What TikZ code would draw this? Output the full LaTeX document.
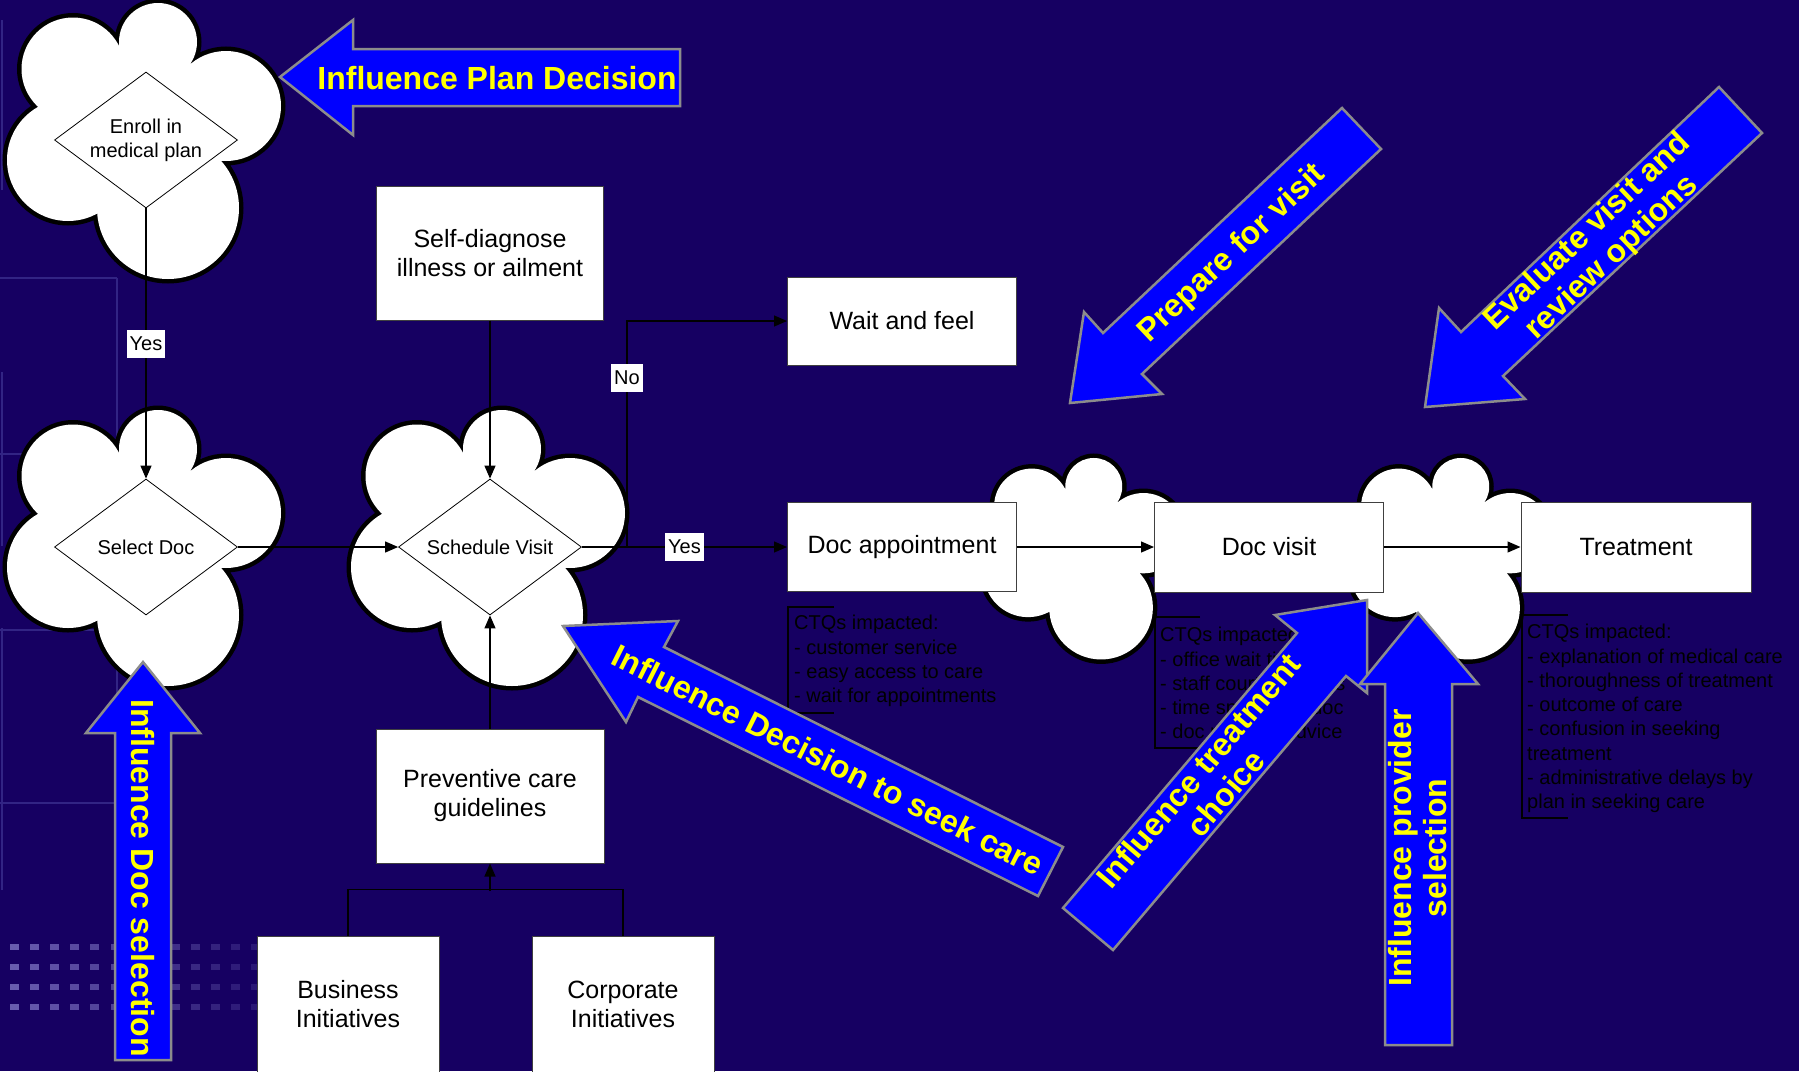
\documentclass[tikz,border=0pt]{standalone}
\usepackage{fontspec}
\setmainfont{Liberation Sans}
\usetikzlibrary{shapes.geometric,arrows.meta}

\definecolor{bgnavy}{RGB}{22,0,98}
\definecolor{decoline}{RGB}{50,36,132}
\definecolor{decodot}{RGB}{125,115,195}
\definecolor{arrblue}{RGB}{0,0,255}
\definecolor{arredge}{RGB}{140,140,140}
\definecolor{arrtext}{RGB}{255,255,0}

\newcommand{\fsz}[2]{\fontsize{#1}{#2}\selectfont}

% lobes of one cloud, relative to its centre
\newcommand{\cloudlobes}{(12,-98) circle (39) (80,-34) circle (55) (22,68) circle (71) (-78,20) circle (61) (-73,-71) circle (51.5)}
\newcommand{\cloudcore}{(-26,-92) -- (37,-68) -- (75,21) -- (-48,73) -- (-108,-33) -- cycle}
\newcommand{\drawcloud}[2]{%
  \begin{scope}[shift={#1},scale=#2]
    \draw[line width=9pt] \cloudlobes;
    \fill[white] \cloudlobes;
    \fill[white] \cloudcore;
  \end{scope}}

\tikzset{
  stepbox/.style={draw=black!75, line width=1pt, fill=white, align=center, font=\fsz{25}{29}},
  decbox/.style={shape=diamond, draw, line width=0.8pt, fill=white, minimum width=183pt,
    minimum height=136pt, inner sep=0pt, aspect=1.35, align=center, font=\fsz{20}{24}},
  flow/.style={line width=1.2pt, -{Triangle[length=13pt,width=11pt]}},
  answer/.style={fill=white, inner xsep=3pt, inner ysep=0pt, minimum height=28pt, font=\fsz{20}{24}},
  ctq/.style={anchor=north west, inner sep=0pt, align=left, text=black, font=\fsz{20}{24.3}},
  ctqline/.style={line width=1.1pt, black},
  bigarrow/.style={fill=arrblue, draw=arredge, line width=2.5pt, line join=miter},
  bigtext/.style={text=arrtext, align=center, inner sep=0pt, font=\bfseries\fsz{32}{35}},
}

\begin{document}
\begin{tikzpicture}[x=1pt,y=-1pt]
  \useasboundingbox (0,0) rectangle (1799,1071);
  \fill[bgnavy] (0,0) rectangle (1799,1071);

  % template decoration on the left
  \draw[decoline, line width=1.5pt] (0,278) -- (117,278) (0,454) -- (117,454)
    (0,630) -- (117,630) (0,803) -- (117,803) (117,278) -- (117,803)
    (2,20) -- (2,190) (2,372) -- (2,546) (2,628) -- (2,890);
  \foreach \c [evaluate=\c as \op using 0.8-0.05*\c] in {0,...,12}
    \foreach \r in {0,...,3}
      \fill[decodot, opacity=\op] ({10+20.1*\c},{944+20*\r}) rectangle ++(9,6);

  % clouds
  \drawcloud{(146,140)}{1}
  \drawcloud{(146,547)}{1}
  \drawcloud{(490,547)}{1}
  \drawcloud{(1085,558)}{0.73}
  \drawcloud{(1452,558)}{0.73}

  % decisions
  \node[decbox] (enroll) at (146,140) {Enroll in\\medical plan};
  \node[decbox] (selectdoc) at (146,547) {Select Doc};
  \node[decbox] (schedule) at (490,547) {Schedule Visit};

  % steps
  \node[stepbox, minimum width=227pt, minimum height=134pt] (selfdiag) at (490,253) {Self-diagnose\\illness or ailment};
  \node[stepbox, minimum width=229pt, minimum height=88pt] (wait) at (902,321) {Wait and feel};
  \node[stepbox, minimum width=229pt, minimum height=89pt] (appt) at (902,547) {Doc appointment};
  \node[stepbox, minimum width=229pt, minimum height=90pt] (visit) at (1269,547) {Doc visit};
  \node[stepbox, minimum width=230pt, minimum height=90pt] (treat) at (1636,547) {Treatment};
  \node[stepbox, minimum width=228pt, minimum height=134pt] (prevent) at (490,796) {Preventive care\\guidelines};
  \node[stepbox, minimum width=182pt, minimum height=136pt] (business) at (348,1004) {Business\\Initiatives};
  \node[stepbox, minimum width=182pt, minimum height=136pt] (corporate) at (623,1004) {Corporate\\Initiatives};

  % connectors
  \draw[flow] (enroll.south) -- node[answer] {Yes} (selectdoc.north);
  \draw[flow] (selectdoc.east) -- (schedule.west);
  \draw[flow] (selfdiag.south) -- (schedule.north);
  \draw[flow] (prevent.north) -- (schedule.south);
  \draw[flow] (schedule.east) -- node[answer] {Yes} (appt.west);
  \coordinate (split) at (627,547);
  \draw[flow] (split) |- node[answer, pos=0.374] {No} (wait.west);
  \draw[flow] (appt.east) -- (visit.west);
  \draw[flow] (visit.east) -- (treat.west);
  \coordinate (join) at (490,891);
  \draw[line width=1.2pt] (business.north) -- ++(0,-46) -| (corporate.north);
  \draw[flow] (join) -- (prevent.south);

  % CTQ notes
  \node[ctq] (ctqappt) at (794,615) {CTQs impacted:\\- customer service\\- easy access to care\\- wait for appointments};
  \draw[ctqline] (834,607) -- (788,607) -- (788,713) -- (834,713);
  \node[ctq] (ctqvisit) at (1160,627) {CTQs impacted:\\- office wait times\\- staff courteousness\\- time spent with doc\\- doc medical advice};
  \draw[ctqline] (1200,617) -- (1155,617) -- (1155,748) -- (1200,748);
  \node[ctq] (ctqtreat) at (1527,624) {CTQs impacted:\\- explanation of medical care\\- thoroughness of treatment\\- outcome of care\\- confusion in seeking\\treatment\\- administrative delays by\\plan in seeking care};
  \draw[ctqline] (1568,615) -- (1522,615) -- (1522,818) -- (1568,818);

  % influence arrows
  \draw[bigarrow] (680,49) -- (353,49) -- (353,20) -- (280,77) -- (353,135) -- (353,106) -- (680,106) -- cycle;
  \node[bigtext] (plantxt) at (497,78) {Influence Plan Decision};

  \draw[bigarrow] (115,1060) -- (115,733) -- (86,733) -- (143,662) -- (200,733) -- (171,733) -- (171,1060) -- cycle;
  \node[bigtext, rotate=-90] (doctxt) at (143,878) {Influence Doc selection};

  \draw[bigarrow] (563,626) -- (678,621) -- (664,647) -- (1063,847) -- (1038,896) -- (638,697) -- (626,722) -- cycle;
  \node[bigtext, rotate=-26.6] (seektxt) at (828,760) {Influence Decision to seek care};

  \draw[bigarrow] (1070,403) -- (1084,312) -- (1103,333) -- (1342,108) -- (1381,149) -- (1142,374) -- (1162,394) -- cycle;
  \node[bigtext, rotate=43.3] (preptxt) at (1232,254) {Prepare for visit};

  \draw[bigarrow] (1425,407) -- (1439,308) -- (1461,332) -- (1719,87) -- (1762,133) -- (1503,376) -- (1525,399) -- cycle;
  \node[bigtext, rotate=43.4] (evaltxt) at (1600,245) {Evaluate visit and\\review options};

  \draw[bigarrow] (1367,600) -- (1275,615) -- (1297,633) -- (1063,908) -- (1113,950) -- (1346,676) -- (1367,693) -- cycle;
  \node[bigtext, rotate=49.7] (choicetxt) at (1212,782) {Influence treatment\\choice};

  \draw[bigarrow] (1385,1045) -- (1385,684) -- (1360,684) -- (1418,613) -- (1478,684) -- (1452,684) -- (1452,1045) -- cycle;
  \node[bigtext, rotate=90] (provtxt) at (1418,848) {Influence provider\\selection};
\end{tikzpicture}
\end{document}
